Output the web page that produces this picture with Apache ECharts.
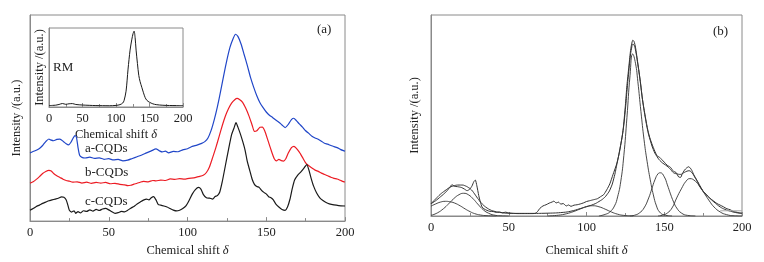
<!DOCTYPE html>
<html>
<head>
<meta charset="utf-8">
<script src="https://cdn.jsdelivr.net/npm/echarts@6/dist/echarts.min.js"></script>
<style>
html, body { margin: 0; padding: 0; background: #fff; }
#chart { width: 764px; height: 262px; }
</style>
</head>
<body>
<div id="chart"></div>
<script>
// chemical shift axis (both panels)
const shiftMin = 0;
const shiftMax = 200;
const shiftStep = 50;

// panel (a): spectra, [shift, intensity]
const aCQDs = [[0,31.5],[2,32.2],[4,32.8],[6,33.6],[8,35],[10,36.8],[12,38],[13,37.6],[15,37.2],[17,37.8],[19,37.9],[21,37],[23,35.8],[24.5,35.3],[26,36.5],[27.5,38.6],[28.6,39.6],[29.5,38.8],[30.5,34],[31.5,30.5],[33,29.5],[35,29.2],[38,29.6],[41,29],[44,29.3],[47,28.6],[50,28.9],[53,28.3],[56,28.6],[59,27.9],[62,28.2],[65,29],[68,29.8],[71,30.6],[74,31.6],[77,32.5],[80,33.4],[82,32.6],[84,32],[86,32.4],[88,31.6],[91,32.3],[94,32.1],[97,33],[100,33.5],[103,34.6],[106,35.2],[109,36],[111,36.8],[113,38.5],[115,42],[117,47],[119,53],[121,60],[123,67.5],[125,74.5],[127,80.5],[129,84.5],[130.5,86.5],[132,85.5],[134,82],[136,77],[138,72],[140,66.5],[142,62],[144,58],[146,54.8],[148,52.5],[150,50.5],[152,49],[154,48],[156,46.8],[158,45.8],[160,44.5],[162,43.3],[164,44.8],[166,47],[167.5,47.6],[169,46.6],[171,45],[173,43.5],[175,41.8],[177,40.6],[179,39.3],[181,38.5],[183,37.9],[185,37],[187,36],[189,35.6],[191,35],[193,34.5],[195,34],[197,33.2],[199,32.6],[200,32.4]];
const bCQDs = [[0,17.5],[2,18.2],[4,19.3],[6,20.6],[8,22],[10,23],[12,23.5],[13.5,23.2],[15,22],[17,21],[19,20.2],[21,19.4],[23,18.8],[25,18.5],[27,18],[30,18.2],[33,17.6],[36,18],[39,17.5],[42,17.9],[45,17.6],[48,17.9],[51,17.3],[54,17.5],[57,17],[60,16.8],[62,16.4],[64,16.6],[66,17.1],[68,17.5],[70,18],[72,18.4],[75,18.2],[78,18.8],[80,18.6],[83,19],[86,18.8],[89,19.5],[92,19.3],[95,19.7],[98,19.4],[101,19.8],[104,20],[107,20.6],[110,21.2],[112,22.5],[114,25.2],[116,29.5],[118,34],[120,39],[122,44],[124,48.5],[126,52],[128,54.6],[130,56.2],[131.5,56.8],[133,56.3],[135,55],[137,52.2],[139,48.7],[141,44.5],[142.5,41.5],[144,41.8],[146,43.4],[147.5,43.5],[149,41.8],[151,37.5],[153,33],[155,29],[156.5,27.9],[158,28.6],[159.5,28],[161,27.8],[162.5,29],[164,31.5],[166,34],[167.6,34.6],[169,33.8],[171,31.9],[173,29.5],[175,27],[177,25.6],[179,24.6],[181,23.6],[183,23],[185,22.2],[187,21.6],[189,21],[191,20.3],[193,19.8],[195,19.5],[197,18.9],[199,18.3],[200,18.1]];
const cCQDs = [[0,5],[2,5.8],[4,6.8],[6,7.4],[8,8.2],[10,8.8],[12,9.4],[14,9.8],[16,10.2],[18,10.6],[20,11.2],[21.5,11],[23,9.8],[24,7.5],[25,5],[26.5,4.2],[28,4.8],[29,3.6],[30.5,4.4],[32,3.8],[34,4.8],[36,4.5],[38,5.2],[40,4.6],[42,5.4],[44,4.9],[46,5.6],[48,5.9],[50,5.2],[52,4.3],[54,3.6],[56,3.9],[58,4.5],[60,4.3],[62,5],[64,6],[66,6.8],[68,7.9],[70,8.8],[72,9.7],[74,10.2],[75.5,9.8],[77,10.8],[78.5,11.3],[80,9.8],[81.5,7.6],[83,7.4],[85,7],[87,6.5],[89,5.8],[91,5.1],[93,4.7],[95,5],[97,5.8],[99,7],[101,9.5],[103,12.5],[105,14.6],[107,15.6],[108.5,14.8],[110,12.4],[112,10.8],[114,10.6],[116,10.2],[117.5,11.4],[119,11.8],[120.5,13.5],[122,18],[124,25.5],[126,33],[128,40],[129.5,43],[130.8,45.6],[132,43.5],[133.5,40.5],[135,37],[136.5,33],[138,27.5],[139.5,23.5],[141,19.5],[142.5,17],[144,16],[145.5,15.6],[147,14.2],[148.5,13.3],[150,12.6],[151.5,11.3],[153,10.8],[154.5,9.8],[156,8],[158,6.5],[160,5.4],[162,5],[163.5,6.5],[165,10],[166.5,15],[168,19],[170,21.3],[172,22.8],[174,24.6],[175.7,26.2],[177,23.8],[178.5,19.8],[180,16.3],[182,13],[184,10.8],[186,9.5],[188,8.6],[190,8],[193,7.5],[196,7.2],[200,7]];

// inset: RM spectrum
const rmSpectrum = [[0,1.8],[5,2],[10,2.3],[15,3.2],[20,4.4],[25,3.4],[30,4.1],[35,4.3],[40,3.2],[50,2.5],[60,2.1],[70,1.8],[80,1.7],[90,1.6],[100,2],[106,3],[110,5],[112,8],[115,20],[118,48],[121,72],[123.5,85],[125.5,93],[127,96],[128.5,88],[130,72],[132,55],[134,40],[136,32],[138.5,25],[141,18],[143.5,12],[146,8.5],[150,6],[155,4],[160,3],[170,2.2],[180,1.9],[190,1.8],[200,1.8]];

// panel (b): measured spectrum, fitted envelope and fitted components
const measured = [[0,6.1],[3,7.6],[6,9.5],[8,10.8],[10.3,12.5],[12,14.2],[13.5,15.6],[15,14.8],[17,14.6],[19.5,14.2],[21.5,13.4],[23.2,12.6],[25,13.4],[26.4,15],[27.5,17],[28.5,17.9],[29.5,15],[30.7,10.2],[31.8,6.8],[32.8,4.5],[34,3.6],[36,2.8],[38,2.3],[40,2.2],[42,1.8],[44,2],[46,1.6],[48,1.9],[50,1.5],[53,1.3],[56,1.2],[60,1.2],[64,1.2],[67,1.3],[68.5,2.2],[70,3.8],[72,5],[74,5.6],[76,6.4],[78,7],[79,7.4],[80.5,6.5],[82,6.9],[83.5,5.9],[85,6.2],[87,5],[88.5,5.5],[90,4.8],[92,5.4],[94,5.6],[96,6],[98,6.5],[100,7.2],[102,7.6],[104.5,8.1],[107,8.6],[109,9.6],[111,10.6],[113,13],[115,16],[117,20.5],[119.6,26.4],[121.5,33],[123.5,42.5],[125,55],[126,65],[127.2,74],[128.2,81.5],[129,85.5],[129.8,87.5],[130.6,86.8],[131.5,84],[133,76],[134.6,67],[136,58],[137.8,49.5],[139.5,42.5],[141,38.2],[143,34],[145.3,30],[147,29.2],[148.5,28],[150,26.8],[151.8,25.3],[154,24.2],[156,22.2],[157.5,21.7],[159.3,19.4],[160.5,19.2],[161.5,20.8],[163,22.8],[164.5,24],[165.7,24.5],[166.8,23.8],[167.8,22.6],[169,20.5],[171,17.8],[173,15],[175.3,12],[177,10.8],[179.6,8.7],[181.5,7.6],[183.9,6.2],[186,5.4],[188,4.6],[190.3,3.6],[192.5,3.1],[194.6,2.2],[196,2],[198,1.6],[200,1.4]];
const fitted = [[0,6.1],[3,8.5],[6,10.8],[9,12.6],[12,14.2],[15,15.1],[18,15.4],[20,15.4],[22,15],[24,14.2],[26,13],[28,11],[30,8.8],[32,6.8],[34,5.2],[36,4],[38,3.1],[40,2.5],[44,1.8],[48.9,1.4],[55,1.3],[65,1.3],[75,1.4],[85,1.8],[90,2.4],[96,3.7],[100,4.7],[104.6,5.8],[108,7.2],[111,8.8],[113,10.5],[115.3,13.4],[117.5,18.5],[119.6,26],[121.5,33.5],[123.5,42.5],[125,53],[126,62],[127.2,72],[128.2,79.5],[129,83.5],[129.8,85.5],[130.6,85],[131.4,83],[133,75.5],[134.6,66.8],[136,58],[137.8,49],[139.5,42],[141,37.7],[143,33],[145.3,29.6],[148,27],[151.8,24.8],[154,23.2],[156,21.5],[158,21],[160.3,20.7],[162.5,21.5],[164.6,22.3],[166,22.5],[167.8,21.5],[169.5,19.5],[171.5,16.8],[173.2,14.2],[176,11.4],[179.6,8.6],[183,6.3],[186,4.5],[189,3.3],[192.5,2.4],[196,1.7],[200,1.3]];
const peak9 = [[0,4.9],[3,6],[6,6.9],[9.2,7.3],[12,7.1],[15,6.5],[18.9,5],[22,3.5],[25.3,2.1],[28,1.2],[31.7,0.5],[36,0.15],[42,0]];
const peak21 = [[0,0.3],[4,1.5],[8.1,3.7],[11,5.8],[14.6,8.6],[18,10.6],[21,11.3],[24,10.6],[27.4,8.3],[30,6],[33.9,2.9],[37,1.4],[40.3,0.5],[45,0.1],[50,0]];
const peak104 = [[75,0],[82,0.4],[87,1.1],[92,2.3],[96,3.5],[100,4.6],[104,5.1],[108,4.6],[112,3.4],[116,2],[120,0.9],[124,0.3],[130,0]];
const peak130 = [[108,0],[112,0.8],[115,2],[118,5],[120,9.5],[122,17],[124,30],[126,49],[128,70],[129.7,80.6],[131.5,76],[133,67],[135,52],[137,38],[139,27],[141,18],[143,10.5],[145,5],[147,2],[150,0.5],[155,0]];
const peak147 = [[128,0],[131,0.4],[134,1.5],[137,4],[140,9],[142,13.5],[144,18],[146,21],[147.5,21.5],[150,19.5],[152,15.5],[154,11],[156,7],[158,4],[161,1.5],[165,0.3],[170,0]];
const peak166 = [[146,0],[149,0.4],[152,1.5],[155,4],[158,9],[161,13.5],[164,17.3],[166.5,18.6],[170,17.3],[173,14.5],[176,11],[179,7.5],[182,4.5],[186,2],[190,0.7],[195,0.1],[200,0]];
const tailLine = [[186,2.6],[200,2.6]];

const serif = 'Liberation Serif';
const frame = '#8a8a8a';
const ink = '#222';

function shiftAxis(gridIndex, opts) {
  return Object.assign({
    type: 'value', gridIndex: gridIndex,
    min: shiftMin, max: shiftMax, interval: shiftStep,
    axisLine: { show: true, onZero: false, lineStyle: { color: frame } },
    axisTick: { show: true, inside: true, length: 4, lineStyle: { color: frame } },
    minorTick: { show: true, splitNumber: 2, length: 3, lineStyle: { color: frame } },
    splitLine: { show: false },
    axisLabel: { color: ink, fontFamily: serif, fontSize: 12.5, margin: 5 },
    nameLocation: 'middle',
    nameTextStyle: { color: ink, fontFamily: serif, fontSize: 12.5, rich: { i: { fontStyle: 'italic', fontFamily: serif, fontSize: 12.5, color: ink } } },
    name: 'Chemical shift {i|δ}'
  }, opts);
}

function intensityAxis(gridIndex, max, gap) {
  return {
    type: 'value', gridIndex: gridIndex, min: 0, max: max,
    axisLine: { show: true, lineStyle: { color: frame } },
    axisTick: { show: false }, axisLabel: { show: false }, splitLine: { show: false },
    name: 'Intensity /(a.u.)', nameLocation: 'middle', nameGap: gap,
    nameTextStyle: { color: ink, fontFamily: serif, fontSize: 12.5 }
  };
}

function curve(data, xi, color, width, smooth) {
  return {
    type: 'line', xAxisIndex: xi, yAxisIndex: xi, data: data,
    showSymbol: false, smooth: smooth, silent: true,
    lineStyle: { color: color, width: width }
  };
}

const chart = echarts.init(document.getElementById('chart'));
chart.setOption({
  animation: false,
  backgroundColor: '#fff',
  grid: [
    { left: 30, top: 15, width: 315, height: 208, show: true, borderColor: frame, borderWidth: 1 },
    { left: 49, top: 28, width: 134, height: 79, show: true, borderColor: frame, borderWidth: 1, backgroundColor: '#fff' },
    { left: 431, top: 15, width: 311, height: 206, show: true, borderColor: frame, borderWidth: 1 }
  ],
  xAxis: [
    shiftAxis(0, { nameGap: 21 }),
    shiftAxis(1, { nameGap: 21 }),
    shiftAxis(2, { nameGap: 28 })
  ],
  yAxis: [
    intensityAxis(0, 95.4, 7),
    intensityAxis(1, 100, 3),
    intensityAxis(2, 100, 10)
  ],
  series: [
    curve(aCQDs, 0, '#2046c8', 1.2, 0.2),
    curve(bCQDs, 0, '#ec1c24', 1.2, 0.2),
    curve(cCQDs, 0, '#1a1a1a', 1.2, 0.2),
    curve(rmSpectrum, 1, '#1a1a1a', 1, 0.3),
    curve(measured, 2, '#333', 1, 0.2),
    curve(fitted, 2, '#333', 1, true),
    curve(peak9, 2, '#333', 0.9, true),
    curve(peak21, 2, '#333', 0.9, true),
    curve(peak104, 2, '#333', 0.9, true),
    curve(peak130, 2, '#333', 0.9, true),
    curve(peak147, 2, '#333', 0.9, true),
    curve(peak166, 2, '#333', 0.9, true),
    curve(tailLine, 2, '#aaa', 1, false)
  ],
  graphic: [
    { type: 'text', left: 317, top: 23, style: { text: '(a)', font: '13px "Liberation Serif"', fill: ink } },
    { type: 'text', left: 713, top: 25, style: { text: '(b)', font: '13px "Liberation Serif"', fill: ink } },
    { type: 'text', left: 53, top: 61, style: { text: 'RM', font: '13px "Liberation Serif"', fill: ink } },
    { type: 'text', left: 85, top: 142, style: { text: 'a-CQDs', font: '13px "Liberation Serif"', fill: ink } },
    { type: 'text', left: 85, top: 166, style: { text: 'b-CQDs', font: '13px "Liberation Serif"', fill: ink } },
    { type: 'text', left: 85, top: 195, style: { text: 'c-CQDs', font: '13px "Liberation Serif"', fill: ink } }
  ]
});
</script>
</body>
</html>
